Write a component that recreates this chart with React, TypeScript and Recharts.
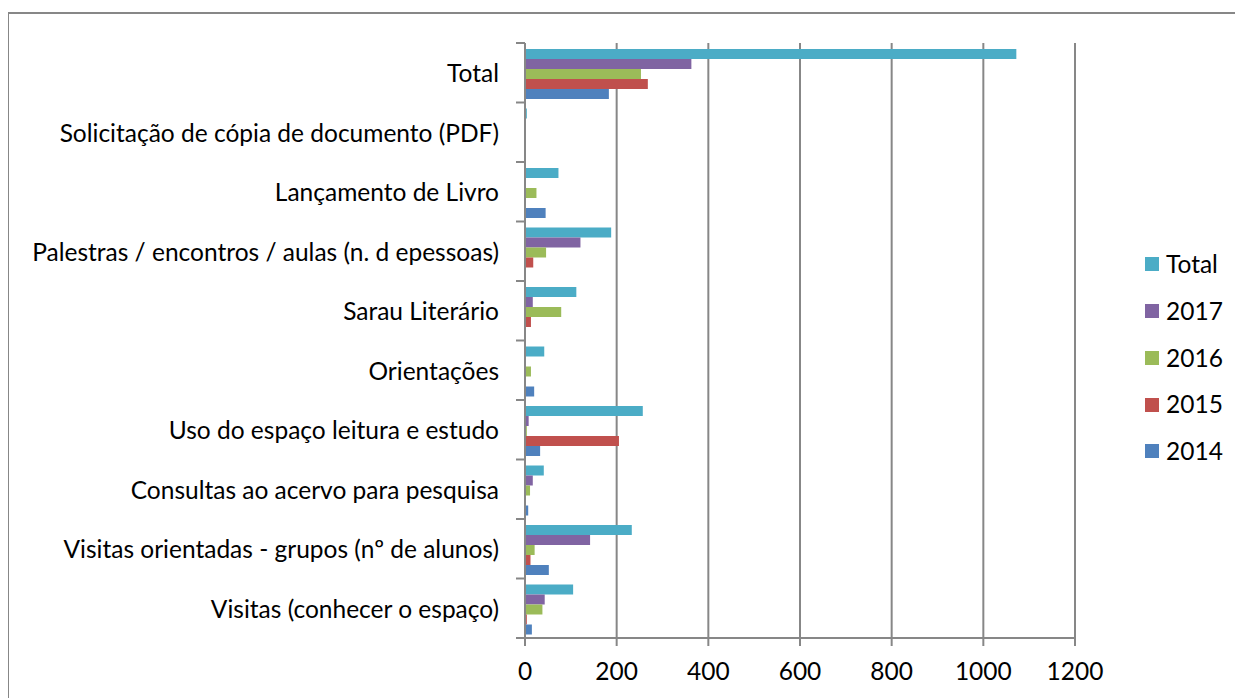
import React from 'react';
import { BarChart, Bar, XAxis, YAxis, CartesianGrid, Legend } from 'recharts';

const categories = [
  'Total',
  'Solicitação de cópia de documento (PDF)',
  'Lançamento de Livro',
  'Palestras / encontros / aulas (n. d epessoas)',
  'Sarau Literário',
  'Orientações',
  'Uso do espaço leitura e estudo',
  'Consultas ao acervo para pesquisa',
  'Visitas orientadas - grupos (nº de alunos)',
  'Visitas (conhecer o espaço)',
];

const totalValues = [1072, 4, 73, 188, 112, 42, 257, 41, 233, 105];
const values2017 = [363, 0, 0, 121, 17, 0, 8, 17, 142, 43];
const values2016 = [253, 1, 25, 46, 79, 13, 4, 11, 21, 38];
const values2015 = [268, 0, 0, 18, 13, 0, 205, 1, 12, 4];
const values2014 = [183, 0, 45, 0, 0, 20, 33, 7, 52, 15];

const xTicks = [0, 200, 400, 600, 800, 1000, 1200];

const SERIES = [
  { key: 'Total', color: '#4BACC6', values: totalValues },
  { key: '2017', color: '#8064A2', values: values2017 },
  { key: '2016', color: '#9BBB59', values: values2016 },
  { key: '2015', color: '#C0504D', values: values2015 },
  { key: '2014', color: '#4F81BD', values: values2014 },
];

const FONT = 'Lato, "Open Sans", sans-serif';
const FONT_SIZE = 24.5;
const AXIS_GRAY = '#878787';
const CHART_W = 1225;
const CHART_H = 684;
const MARGIN = { top: 29, right: 159, left: 0, bottom: 0 };
const Y_AXIS_W = 516;
const X_AXIS_H = 60;
const PLOT_H = CHART_H - MARGIN.top - MARGIN.bottom - X_AXIS_H;
const BAND = PLOT_H / categories.length;
const LABEL_GAP = 26;

const data = categories.map((name, i) => {
  const row: Record<string, string | number> = { name };
  SERIES.forEach((s) => { row[s.key] = s.values[i]; });
  return row;
});

// category label plus the small boundary ticks Excel draws between groups
const CategoryTick = (props: any) => {
  const { x, y, payload, index } = props;
  const axisX = x + LABEL_GAP;
  const isLast = index === categories.length - 1;
  return (
    <g>
      <text x={x} y={y} textAnchor="end" dominantBaseline="central" fontSize={FONT_SIZE} fontFamily={FONT} fill="#000">
        {payload.value}
      </text>
      <line x1={axisX - 9} x2={axisX} y1={y - BAND / 2} y2={y - BAND / 2} stroke={AXIS_GRAY} strokeWidth={2} />
      {isLast && <line x1={axisX - 9} x2={axisX} y1={y + BAND / 2} y2={y + BAND / 2} stroke={AXIS_GRAY} strokeWidth={2} />}
    </g>
  );
};

const LegendContent = () => (
  <div style={{ fontFamily: FONT, fontSize: FONT_SIZE, color: '#000' }}>
    {SERIES.map((s) => (
      <div key={s.key} style={{ display: 'flex', alignItems: 'center', height: 46.75 }}>
        <span style={{ width: 14, height: 14, background: s.color, display: 'inline-block', marginRight: 7 }} />
        <span style={{ lineHeight: 1 }}>{s.key}</span>
      </div>
    ))}
  </div>
);

export default function App() {
  return (
    <div
      style={{
        position: 'fixed',
        left: 8,
        top: 12,
        width: 1240,
        height: 700,
        borderTop: `2px solid ${AXIS_GRAY}`,
        borderLeft: `1px solid ${AXIS_GRAY}`,
        background: '#fff',
      }}
    >
      <BarChart
        width={CHART_W}
        height={CHART_H}
        data={data}
        layout="vertical"
        margin={MARGIN}
        barCategoryGap={6}
        barGap={0}
      >
        <CartesianGrid horizontal={false} stroke={AXIS_GRAY} strokeWidth={2} />
        <XAxis
          type="number"
          domain={[0, 1200]}
          ticks={xTicks}
          interval={0}
          height={X_AXIS_H}
          axisLine={{ stroke: AXIS_GRAY, strokeWidth: 2 }}
          tickLine={{ stroke: AXIS_GRAY, strokeWidth: 2 }}
          tickSize={8}
          tickMargin={17}
          tick={{ fontSize: FONT_SIZE, fontFamily: FONT, fill: '#000' }}
        />
        <YAxis
          type="category"
          dataKey="name"
          width={Y_AXIS_W}
          interval={0}
          axisLine={{ stroke: AXIS_GRAY, strokeWidth: 2 }}
          tickLine={false}
          tickSize={0}
          tickMargin={LABEL_GAP}
          tick={<CategoryTick />}
        />
        <Legend
          layout="vertical"
          align="center"
          verticalAlign="middle"
          content={<LegendContent />}
          wrapperStyle={{ position: 'absolute', left: 1136, top: 227, width: 90 }}
        />
        {SERIES.map((s) => (
          <Bar key={s.key} dataKey={s.key} fill={s.color} isAnimationActive={false} />
        ))}
      </BarChart>
    </div>
  );
}
